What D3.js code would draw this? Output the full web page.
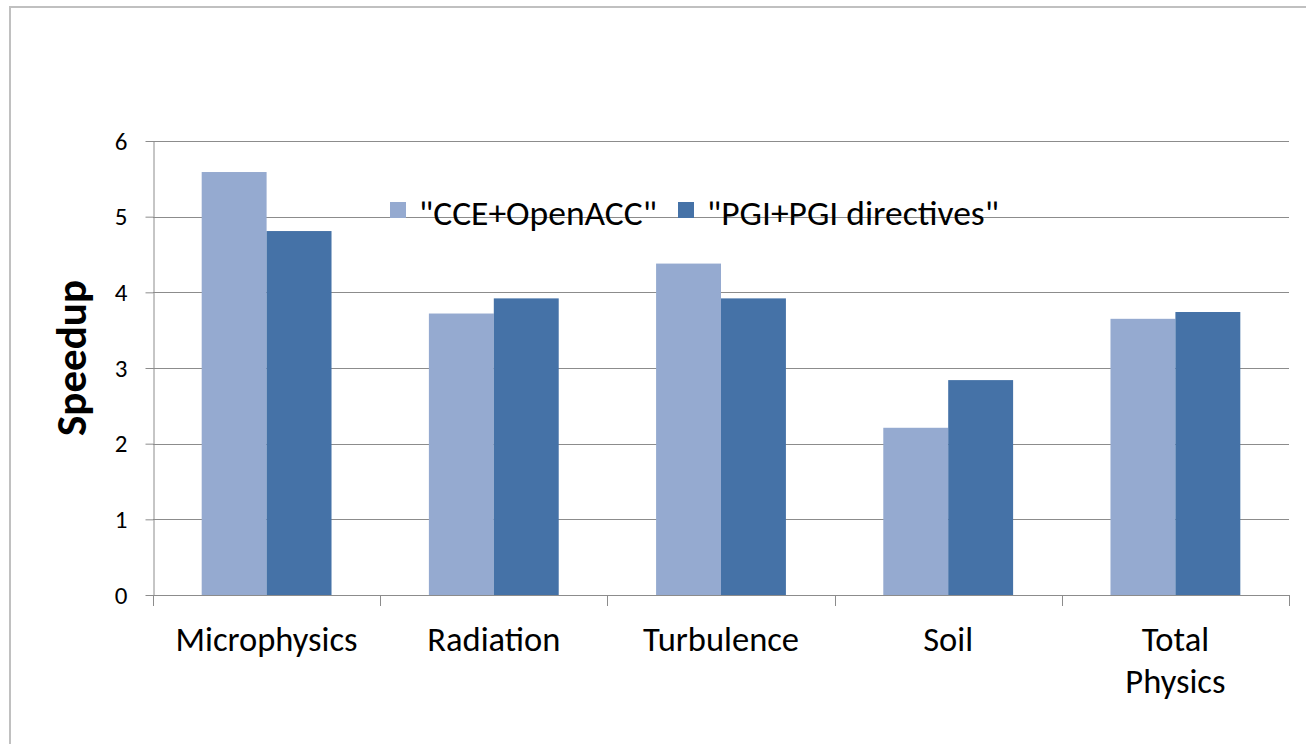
<!DOCTYPE html>
<html><head><meta charset="utf-8">
<script src="https://cdnjs.cloudflare.com/ajax/libs/d3/7.8.5/d3.min.js"></script>
<style>
html,body{margin:0;padding:0;background:#fff;}
svg{display:block;}
text{font-family: Carlito, Calibri, Lato, sans-serif; fill:#000;}
</style></head>
<body>
<svg id="chart" width="1306" height="744"></svg>
<script>
const categories = ["Microphysics", "Radiation", "Turbulence", "Soil", "Total Physics"];
const seriesNames = ["\"CCE+OpenACC\"", "\"PGI+PGI directives\""];
const cceValues = [5.59, 3.72, 4.38, 2.21, 3.65];
const pgiValues = [4.81, 3.92, 3.92, 2.84, 3.74];
const yTicks = [0, 1, 2, 3, 4, 5, 6];
const colors = ["#95aad0", "#4572a7"];

const svg = d3.select("#chart");
// outer frame
svg.append("rect").attr("x", 10).attr("y", 7).attr("width", 1320).attr("height", 760)
  .attr("fill", "none").attr("stroke", "#c0c0c0").attr("stroke-width", 2);

const plotLeft = 153, plotRight = 1289, plotTop = 141, plotBottom = 595;
const y = d3.scaleLinear().domain([0, 6]).range([plotBottom, plotTop]);
const x0 = d3.scaleBand().domain(categories).range([plotLeft, plotRight]).padding(0);
const bw = x0.bandwidth();
const gap = bw * 1.5 / 3.5;
const x1 = d3.scaleBand().domain(seriesNames).range([gap / 2, bw - gap / 2]).padding(0);

// gridlines
svg.append("g").selectAll("line").data(yTicks.filter(d => d > 0)).join("line")
  .attr("x1", plotLeft).attr("x2", plotRight)
  .attr("y1", d => Math.round(y(d)) + 0.5).attr("y2", d => Math.round(y(d)) + 0.5)
  .attr("stroke", "#8c8c8c").attr("stroke-width", 1);

// bars
const data = categories.map((c, i) => ({cat: c, vals: [cceValues[i], pgiValues[i]]}));
const groups = svg.append("g").selectAll("g").data(data).join("g")
  .attr("transform", d => `translate(${x0(d.cat)},0)`);
groups.selectAll("rect").data(d => d.vals.map((v, j) => ({v, s: seriesNames[j], j}))).join("rect")
  .attr("x", d => x1(d.s)).attr("width", x1.bandwidth())
  .attr("y", d => y(d.v)).attr("height", d => y(0) - y(d.v))
  .attr("fill", d => colors[d.j]);

// y axis
const yAxis = d3.axisLeft(y).tickValues(yTicks).tickFormat(d3.format("d"))
  .tickSizeInner(8).tickSizeOuter(0).tickPadding(18);
const gy = svg.append("g").attr("transform", `translate(${plotLeft + 0.5},0)`).call(yAxis);
gy.select(".domain").attr("stroke", "#8c8c8c");
gy.selectAll(".tick line").attr("stroke", "#8c8c8c");
gy.selectAll(".tick text").attr("font-size", 25).attr("font-family", "Carlito, Calibri, Lato, sans-serif").attr("fill", "#000");

// x axis baseline and boundary ticks
svg.append("line").attr("x1", plotLeft).attr("x2", plotRight).attr("y1", plotBottom + 0.5).attr("y2", plotBottom + 0.5)
  .attr("stroke", "#8c8c8c");
const bounds = categories.map(c => x0(c)).concat([x0(categories[categories.length - 1]) + bw]);
svg.append("g").selectAll("line").data(bounds).join("line")
  .attr("x1", d => Math.round(d) + 0.5).attr("x2", d => Math.round(d) + 0.5)
  .attr("y1", plotBottom).attr("y2", plotBottom + 11).attr("stroke", "#8c8c8c");

// category labels
const labelLines = {"Total Physics": ["Total", "Physics"]};
const xl = svg.append("g");
categories.forEach(c => {
  const lines = labelLines[c] || [c];
  const t = xl.append("text").attr("x", x0(c) + bw / 2).attr("y", 651)
    .attr("text-anchor", "middle").attr("font-size", 34.5);
  lines.forEach((ln, i) => t.append("tspan").attr("x", x0(c) + bw / 2).attr("dy", i === 0 ? 0 : 42).text(ln));
});

// y title
svg.append("text").attr("transform", "translate(86,358) rotate(-90)")
  .attr("text-anchor", "middle").attr("font-size", 43).attr("font-weight", "bold").text("Speedup");

// legend
const legendPos = [390, 678];
const lg = svg.append("g");
seriesNames.forEach((s, i) => {
  lg.append("rect").attr("x", legendPos[i]).attr("y", 202).attr("width", 16).attr("height", 16).attr("fill", colors[i]);
  lg.append("text").attr("x", legendPos[i] + 29).attr("y", 225).attr("font-size", 35.5).text(s);
});
</script>
</body></html>
